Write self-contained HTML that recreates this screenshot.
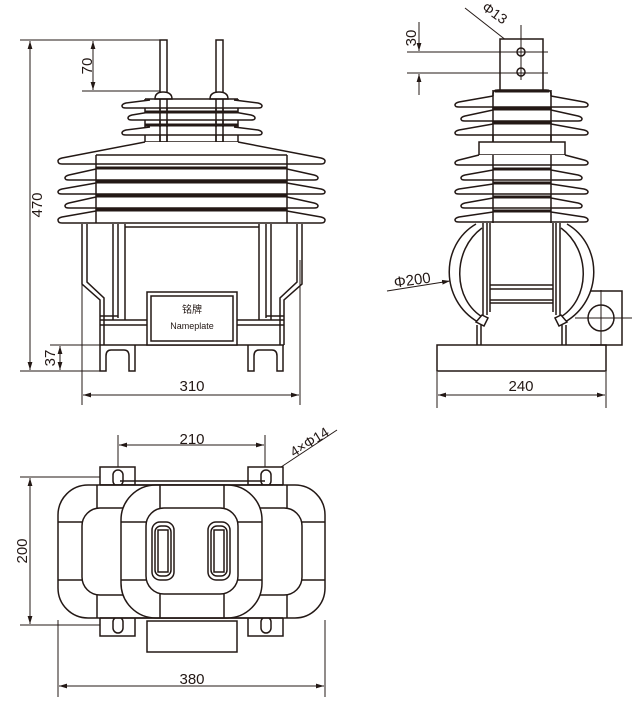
<!DOCTYPE html>
<html><head><meta charset="utf-8"><style>
html,body{margin:0;padding:0;background:#fff;}
svg{display:block;}
text{font-family:"Liberation Sans","Noto Sans CJK SC",sans-serif;fill:#231815;}
</style></head><body>
<svg width="641" height="709" viewBox="0 0 641 709" xmlns="http://www.w3.org/2000/svg">
<defs>
<marker id="a" viewBox="0 0 10 10" refX="10" refY="5" markerWidth="8" markerHeight="8" orient="auto-start-reverse"><path d="M0,2 L10,5 L0,8 z" fill="#231815"/></marker>
</defs>
<g stroke="#231815" fill="none" stroke-width="1">
<!-- ===== FRONT VIEW ===== -->
<line x1="20" y1="40" x2="162" y2="40"/>
<line x1="20" y1="371" x2="100" y2="371"/>
<line x1="30" y1="41" x2="30" y2="370" marker-start="url(#a)" marker-end="url(#a)"/>
<line x1="82" y1="91" x2="160" y2="91"/>
<line x1="93" y1="41" x2="93" y2="90" marker-start="url(#a)" marker-end="url(#a)"/>
<line x1="50" y1="345" x2="100" y2="345"/>
<line x1="60" y1="346" x2="60" y2="370" marker-start="url(#a)" marker-end="url(#a)"/>
<line x1="82" y1="260" x2="82" y2="405"/>
<line x1="300" y1="260" x2="300" y2="405"/>
<line x1="83" y1="395" x2="299" y2="395" marker-start="url(#a)" marker-end="url(#a)"/>
<g stroke-width="1.5">
<rect x="160" y="40" width="7" height="102" fill="#fff"/>
<rect x="216" y="40" width="7" height="102" fill="#fff"/>
<path d="M155,99 Q155,92 163,92 Q172,92 172,99 Z" fill="#fff"/>
<path d="M210,99 Q210,92 219,92 Q228,92 228,99 Z" fill="#fff"/>
<line x1="145" y1="99" x2="145" y2="142"/><line x1="238" y1="99" x2="238" y2="142"/>
<line x1="145" y1="99" x2="238" y2="99"/>
<path d="M150,100 L126,103 Q122,104 122,106 Q122,108 126,108 L258,108 Q262,108 262,106 Q262,104 258,103 L234,100" fill="#fff"/>
<path d="M150,112 L132,115 Q128,116 128,118 Q128,120 132,120 L251,120 Q255,120 255,118 Q255,116 251,115 L234,112" fill="#fff"/>
<path d="M150,127 L126,130 Q122,131 122,133 Q122,135 126,135 L258,135 Q262,135 262,133 Q262,131 258,130 L234,127" fill="#fff"/>
<line x1="145" y1="112" x2="238" y2="112" stroke-width="3"/>
<line x1="145" y1="125" x2="238" y2="125" stroke-width="3"/>
<line x1="160" y1="99" x2="160" y2="142"/><line x1="167" y1="99" x2="167" y2="142"/>
<line x1="216" y1="99" x2="216" y2="142"/><line x1="223" y1="99" x2="223" y2="142"/>
<line x1="145" y1="142" x2="238" y2="142"/>
<path d="M145,142 L62,158 Q58,159 58,161 Q58,164 62,164 L321,164 Q325,164 325,161 Q325,159 321,158 L238,142" fill="#fff"/>
<path d="M96,169 L69,175 Q65,176 65,178 Q65,180 69,180 L314,180 Q318,180 318,178 Q318,176 314,175 L287,169" fill="#fff"/>
<path d="M96,183 L62,189 Q58,190 58,192 Q58,194 62,194 L321,194 Q325,194 325,192 Q325,190 321,189 L287,183" fill="#fff"/>
<path d="M96,197 L69,203 Q65,204 65,206 Q65,208 69,208 L314,208 Q318,208 318,206 Q318,204 314,203 L287,197" fill="#fff"/>
<path d="M96,211 L62,217 Q58,218 58,220 Q58,223 62,223 L321,223 Q325,223 325,220 Q325,218 321,217 L287,211" fill="#fff"/>
<line x1="96" y1="155" x2="287" y2="155"/>
<line x1="96" y1="168" x2="287" y2="168" stroke-width="3"/>
<line x1="96" y1="182" x2="287" y2="182" stroke-width="3"/>
<line x1="96" y1="196" x2="287" y2="196" stroke-width="3"/>
<line x1="96" y1="210" x2="287" y2="210" stroke-width="3"/>
<line x1="96" y1="155" x2="96" y2="223"/><line x1="287" y1="155" x2="287" y2="223"/>
<path d="M82,224 L82,284 L100,300 L100,345 M87,224 L87,282 L104,298 L104,345"/>
<path d="M302,224 L302,284 L284,300 L284,345 M297,224 L297,282 L280,298 L280,345"/>
<path d="M113,224 L113,320 M118,224 L118,318 M125,224 L125,320"/>
<path d="M271,224 L271,320 M266,224 L266,318 M259,224 L259,320"/>
<line x1="125" y1="227" x2="259" y2="227"/>
<path d="M100,316 L118,316 M100,320 L147,320 M100,325 L147,325 M237,320 L284,320 M237,325 L284,325 M266,316 L284,316"/>
<line x1="100" y1="345" x2="284" y2="345"/>
<rect x="147" y="292" width="90" height="53" fill="#fff"/>
<rect x="151" y="296" width="82" height="45"/>
<path d="M100,345 L100,371 L106,371 L106,356 Q106,350 111,350 L124,350 Q129,350 129,356 L129,371 L135,371 L135,345"/>
<path d="M248,345 L248,371 L254,371 L254,356 Q254,350 259,350 L272,350 Q277,350 277,356 L277,371 L283,371 L283,345"/>
</g>

<!-- ===== SIDE VIEW ===== -->
<line x1="407" y1="52" x2="548" y2="52"/>
<line x1="407" y1="73" x2="548" y2="73"/>
<line x1="419" y1="22" x2="419" y2="51" marker-end="url(#a)"/>
<line x1="419" y1="95" x2="419" y2="74" marker-end="url(#a)"/>
<line x1="521" y1="25" x2="521" y2="82"/>
<line x1="465" y1="8" x2="516" y2="48" marker-end="url(#a)"/>
<line x1="387" y1="291" x2="450" y2="281" marker-end="url(#a)"/>
<line x1="437" y1="372" x2="437" y2="408"/>
<line x1="606" y1="372" x2="606" y2="408"/>
<line x1="438" y1="395" x2="605" y2="395" marker-start="url(#a)" marker-end="url(#a)"/>
<line x1="575" y1="318" x2="632" y2="318"/>
<line x1="601" y1="290" x2="601" y2="350"/>
<g stroke-width="1.5">
<rect x="500" y="39" width="43" height="53" fill="#fff"/>
<circle cx="521" cy="52" r="4"/><circle cx="521" cy="72" r="4"/>
<line x1="500" y1="52" x2="543" y2="52" stroke-width="1"/><line x1="500" y1="73" x2="543" y2="73" stroke-width="1"/>
<line x1="521" y1="39" x2="521" y2="80" stroke-width="1"/>
<path d="M493,142 L493,94 Q493,90 498,90 L546,90 Q551,90 551,94 L551,142" fill="#fff"/>
<line x1="495" y1="91" x2="549" y2="91" stroke-width="3"/>
<path d="M493,96 L459,102 Q455,103 455,105 Q455,107 459,107 L584,107 Q588,107 588,105 Q588,103 584,102 L551,96" fill="#fff"/>
<path d="M493,110 L465,116 Q461,117 461,119 Q461,121 465,121 L578,121 Q582,121 582,119 Q582,117 578,116 L551,110" fill="#fff"/>
<path d="M493,124 L459,130 Q455,131 455,133 Q455,135 459,135 L584,135 Q588,135 588,133 Q588,131 584,130 L551,124" fill="#fff"/>
<line x1="493" y1="109" x2="551" y2="109" stroke-width="3"/>
<line x1="493" y1="123" x2="551" y2="123" stroke-width="3"/>
<line x1="493" y1="90" x2="493" y2="142"/><line x1="551" y1="90" x2="551" y2="142"/>
<rect x="479" y="142" width="86" height="13" fill="#fff"/>
<path d="M479,155 L459,160 Q455,161 455,163 Q455,165 459,165 L584,165 Q588,165 588,163 Q588,161 584,160 L565,155" fill="#fff"/>
<path d="M493,170 L465,175 Q461,176 461,178 Q461,180 465,180 L578,180 Q582,180 582,178 Q582,176 578,175 L551,170" fill="#fff"/>
<path d="M493,184 L459,189 Q455,190 455,192 Q455,194 459,194 L584,194 Q588,194 588,192 Q588,190 584,189 L551,184" fill="#fff"/>
<path d="M493,198 L465,203 Q461,204 461,206 Q461,208 465,208 L578,208 Q582,208 582,206 Q582,204 578,203 L551,198" fill="#fff"/>
<path d="M493,212 L459,217 Q455,218 455,220 Q455,222 459,222 L584,222 Q588,222 588,220 Q588,218 584,217 L551,212" fill="#fff"/>
<line x1="493" y1="169" x2="551" y2="169" stroke-width="3"/>
<line x1="493" y1="183" x2="551" y2="183" stroke-width="3"/>
<line x1="493" y1="197" x2="551" y2="197" stroke-width="3"/>
<line x1="493" y1="211" x2="551" y2="211" stroke-width="3"/>
<line x1="493" y1="155" x2="493" y2="223"/><line x1="551" y1="155" x2="551" y2="223"/>
<!-- ring arcs -->
<path d="M476,224 C440,245 440,300 478,322 M482,228 C452,250 452,300 484,318"/>
<path d="M567,224 C603,245 603,300 565,322 M561,228 C591,250 591,300 559,318"/>
<path d="M483,223 L483,315 M487,223 L487,315 M490,223 L490,312"/>
<path d="M560,223 L560,315 M556,223 L556,315 M553,223 L553,312"/>
<line x1="490" y1="285" x2="553" y2="285"/><line x1="490" y1="289" x2="553" y2="289"/>
<line x1="490" y1="300" x2="553" y2="300"/><line x1="490" y1="303" x2="553" y2="303"/>
<path d="M476,322 L482,315 L488,318 L484,326 Z" fill="#fff"/>
<path d="M567,322 L561,315 L555,318 L559,326 Z" fill="#fff"/>
<path d="M477,325 L477,345 M481,325 L481,345 M562,325 L562,345 M566,325 L566,345"/>
<rect x="437" y="345" width="169" height="26" fill="#fff"/>
<path d="M590,345 L622,345 L622,291 L590,291"/>
<circle cx="601" cy="318" r="13"/>
</g>

<!-- ===== BOTTOM VIEW ===== -->
<line x1="118" y1="435" x2="118" y2="480"/>
<line x1="265" y1="435" x2="265" y2="480"/>
<line x1="119" y1="445" x2="264" y2="445" marker-start="url(#a)" marker-end="url(#a)"/>
<line x1="337" y1="430" x2="272" y2="473" marker-end="url(#a)"/>
<line x1="20" y1="477" x2="118" y2="477"/>
<line x1="20" y1="625" x2="118" y2="625"/>
<line x1="30" y1="478" x2="30" y2="624" marker-start="url(#a)" marker-end="url(#a)"/>
<line x1="58" y1="620" x2="58" y2="697"/>
<line x1="325" y1="620" x2="325" y2="697"/>
<line x1="59" y1="686" x2="324" y2="686" marker-start="url(#a)" marker-end="url(#a)"/>
<g stroke-width="1.5">
<rect x="100" y="467" width="35" height="18" fill="#fff"/>
<rect x="248" y="467" width="35" height="18" fill="#fff"/>
<rect x="100" y="617" width="35" height="19" fill="#fff"/>
<rect x="248" y="617" width="35" height="19" fill="#fff"/>
<rect x="113" y="470" width="10" height="16" rx="5"/>
<rect x="261" y="470" width="10" height="16" rx="5"/>
<rect x="113" y="617" width="10" height="16" rx="5"/>
<rect x="261" y="617" width="10" height="16" rx="5"/>
<line x1="120" y1="481" x2="265" y2="481"/>
<rect x="147" y="621" width="90" height="31" fill="#fff"/>
<rect x="58" y="485" width="267" height="133" rx="30" fill="#fff"/>
<rect x="82" y="508" width="220" height="87" rx="18"/>
<path d="M97,485 L97,508 M287,485 L287,508 M97,595 L97,618 M287,595 L287,618"/>
<path d="M58,522 L82,522 M58,580 L82,580 M302,522 L325,522 M302,580 L325,580"/>
<rect x="121" y="485" width="141" height="133" rx="35" fill="#fff"/>
<rect x="146" y="508" width="92" height="86" rx="18"/>
<path d="M160,485 L160,508 M224,485 L224,508 M160,594 L160,618 M224,594 L224,618"/>
<path d="M121,522 L146,522 M121,580 L146,580 M238,522 L262,522 M238,580 L262,580"/>
<line x1="100" y1="485" x2="283" y2="485"/>
<line x1="100" y1="618" x2="283" y2="618"/>
<rect x="152" y="522" width="22" height="58" rx="8"/>
<rect x="155" y="526" width="16" height="50" rx="6"/>
<rect x="158" y="530" width="10" height="42"/>
<rect x="208" y="522" width="22" height="58" rx="8"/>
<rect x="211" y="526" width="16" height="50" rx="6"/>
<rect x="214" y="530" width="10" height="42"/>
</g>
</g>

<text x="0" y="0" font-size="15" text-anchor="middle" transform="translate(42,205) rotate(-90)">470</text>
<text x="0" y="0" font-size="15" text-anchor="middle" transform="translate(92,66) rotate(-90)">70</text>
<text x="0" y="0" font-size="15" text-anchor="middle" transform="translate(55,358) rotate(-90)">37</text>
<text x="192" y="391" font-size="15" text-anchor="middle">310</text>
<text x="192" y="313" font-size="10" text-anchor="middle">铭牌</text>
<text x="192" y="329" font-size="9" text-anchor="middle">Nameplate</text>
<text x="0" y="0" font-size="15" text-anchor="middle" transform="translate(416,38) rotate(-90)">30</text>
<text x="0" y="0" font-size="14" text-anchor="middle" transform="translate(492,17) rotate(35)">Φ13</text>
<text x="0" y="0" font-size="15" text-anchor="middle" transform="translate(413,285) rotate(-8)">Φ200</text>
<text x="521" y="391" font-size="15" text-anchor="middle">240</text>
<text x="192" y="444" font-size="15" text-anchor="middle">210</text>
<text x="0" y="0" font-size="14" text-anchor="middle" transform="translate(312,446) rotate(-32)">4×Φ14</text>
<text x="0" y="0" font-size="15" text-anchor="middle" transform="translate(27,551) rotate(-90)">200</text>
<text x="192" y="684" font-size="15" text-anchor="middle">380</text>
</svg>
</body></html>
